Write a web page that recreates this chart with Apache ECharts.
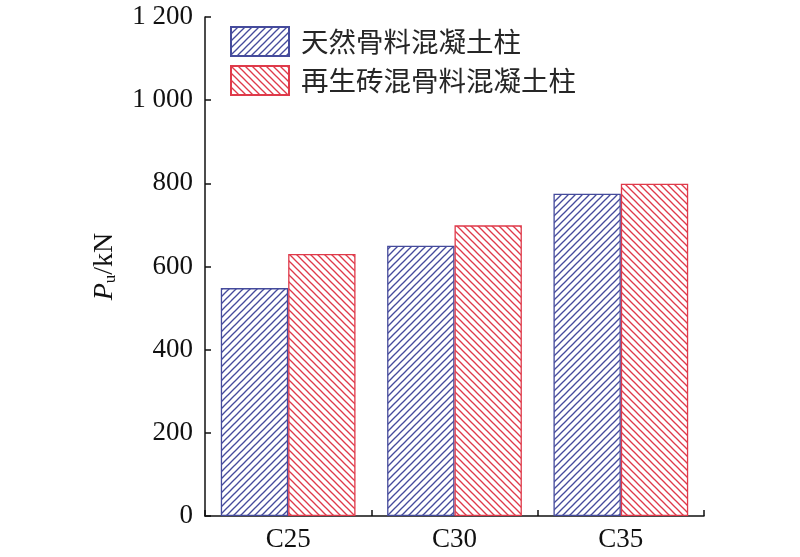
<!DOCTYPE html>
<html>
<head>
<meta charset="utf-8">
<script src="https://cdn.jsdelivr.net/npm/echarts@6/dist/echarts.min.js"></script>
<style>html,body{margin:0;padding:0;background:#fff;}#c{width:800px;height:557px;}</style>
</head>
<body>
<div id="c"></div>
<script>
var categories = ['C25', 'C30', 'C35'];
var seriesNames = ['天然骨料混凝土柱', '再生砖混骨料混凝土柱'];
var naturalValues = [548, 650, 775];
var recycledValues = [630, 699, 799];
var yTicks = [0, 200, 400, 600, 800, 1000, 1200];

function hatch(color, dir) {
  var s = 7;
  var cv = document.createElement('canvas');
  cv.width = s; cv.height = s;
  var ctx = cv.getContext('2d');
  ctx.fillStyle = '#fff';
  ctx.fillRect(0, 0, s, s);
  ctx.strokeStyle = color;
  ctx.lineWidth = 1.3;
  for (var k = -1; k <= 1; k++) {
    ctx.beginPath();
    if (dir === '/') {
      var c = s + k * s;
      ctx.moveTo(c - s - 1, s + 1);
      ctx.lineTo(c + 1, -1);
    } else {
      var c2 = k * s;
      ctx.moveTo(c2 - 1, -1);
      ctx.lineTo(c2 + s + 1, s + 1);
    }
    ctx.stroke();
  }
  return { image: cv, repeat: 'repeat' };
}

var blue = '#454b9c';
var red = '#df3a4a';
var serif = '"Liberation Serif", "Times New Roman", serif';

var chart = echarts.init(document.getElementById('c'), null, { renderer: 'canvas' });
chart.setOption({
  backgroundColor: '#fff',
  animation: false,
  grid: { left: 205, right: 96, top: 17, bottom: 41, containLabel: false },
  legend: {
    orient: 'vertical',
    left: 230,
    top: 26,
    padding: 0,
    itemWidth: 58,
    itemHeight: 29,
    itemGap: 8,
    icon: 'rect',
    textStyle: {
      fontFamily: '"Noto Sans CJK SC", sans-serif',
      fontSize: 27.5,
      color: '#262626',
      padding: [0, 0, 0, 7]
    },
    data: seriesNames
  },
  xAxis: {
    type: 'category',
    data: categories,
    axisLine: { lineStyle: { color: '#111', width: 1.5 } },
    axisTick: { show: true, inside: true, length: 6, alignWithLabel: false, lineStyle: { color: '#111', width: 1.5 } },
    axisLabel: { fontFamily: serif, fontSize: 27, color: '#111', margin: 10 }
  },
  yAxis: {
    type: 'value',
    min: 0,
    max: 1200,
    interval: 200,
    name: '{i|P}{s|u}{n|/kN}',
    nameLocation: 'middle',
    nameGap: 86,
    nameRotate: 90,
    nameTextStyle: {
      rich: {
        i: { fontFamily: serif, fontStyle: 'italic', fontSize: 28, color: '#111' },
        s: { fontFamily: serif, fontSize: 17, color: '#111', verticalAlign: 'bottom', padding: [10, 0, 0, 0] },
        n: { fontFamily: serif, fontSize: 28, color: '#111' }
      }
    },
    splitLine: { show: false },
    axisLine: { show: true, lineStyle: { color: '#111', width: 1.5 } },
    axisTick: { show: true, inside: true, length: 6, lineStyle: { color: '#111', width: 1.5 } },
    axisLabel: {
      fontFamily: serif,
      fontSize: 27,
      color: '#111',
      margin: 12,
      formatter: function (v) {
        var str = String(v);
        return str.length > 3 ? str.slice(0, str.length - 3) + ' ' + str.slice(-3) : str;
      }
    }
  },
  series: [
    {
      name: seriesNames[0],
      type: 'bar',
      data: naturalValues,
      barGap: '0%',
      barCategoryGap: '19%',
      itemStyle: { color: hatch(blue, '/'), borderColor: blue, borderWidth: 1.3 }
    },
    {
      name: seriesNames[1],
      type: 'bar',
      data: recycledValues,
      barGap: '0%',
      barCategoryGap: '19%',
      itemStyle: { color: hatch(red, '\\'), borderColor: red, borderWidth: 1.3 }
    }
  ]
});
</script>
</body>
</html>
